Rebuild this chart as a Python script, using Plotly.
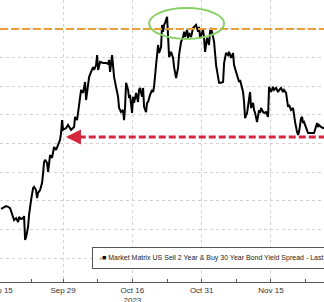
import numpy as np
import pandas as pd
import plotly.graph_objects as go

# ---- data: trading-session offset from 2023-09-15 and spread (bp) ----
sessions = [
    0.16, 0.48, 0.95, 1.27, 1.59, 2.06, 2.22, 2.54, 2.86, 3.02, 3.33, 3.65, 3.81, 3.97, 4.13,
    4.44, 4.60, 4.92, 5.24, 5.40, 5.71, 5.87, 6.03, 6.35, 6.67, 6.83, 6.98, 7.14, 7.46, 7.62,
    7.78, 7.94, 8.25, 8.41, 8.57, 8.89, 9.21, 9.37, 9.52, 9.68, 9.84,
    10.00, 10.48, 10.79, 11.27, 11.75, 11.90, 12.22, 12.54, 12.86, 13.17, 13.33, 13.49, 13.65,
    13.97, 14.13, 14.44, 14.76, 14.92, 15.24, 15.40, 15.56, 15.87, 16.35, 16.83, 17.14, 17.30,
    17.46, 17.78, 17.94, 18.10, 18.41, 18.73, 18.89, 19.21, 19.52, 19.68, 19.84, 20.00, 20.32,
    20.48, 20.63, 20.95, 21.11, 21.27, 21.59, 21.90, 22.06, 22.22, 22.54, 22.70, 22.86, 23.17,
    23.33, 23.49, 23.81, 24.13, 24.29, 24.44, 24.76, 24.92, 25.08, 25.24, 25.56,
    25.71, 25.87, 26.03, 26.19, 26.51, 26.67, 26.83, 27.14, 27.46, 27.62, 27.94, 28.25, 28.41,
    28.73, 29.05, 29.21, 29.37, 29.68, 29.84, 30.00, 30.32, 30.63, 30.79, 31.11, 31.43, 31.59,
    31.75, 31.90, 32.22, 32.38, 32.54, 32.86, 33.17, 33.33, 33.49, 33.81, 33.97, 34.29, 34.60,
    34.76, 35.08, 35.40, 35.56, 35.87, 36.19, 36.35, 36.67, 36.98, 37.14, 37.46,
    37.78, 37.94, 38.10, 38.25, 38.57, 38.73, 38.89, 39.21, 39.37, 39.52, 39.68, 39.84, 40.16,
    40.32, 40.48, 40.79, 40.95, 41.11, 41.27, 41.43, 41.75, 41.90, 42.22, 42.54, 42.70, 43.02,
    43.33, 43.49, 43.81, 44.13, 44.29, 44.60, 44.92, 45.08, 45.40, 45.56, 45.71, 45.87, 46.19,
    46.51, 46.67, 46.83, 47.14, 47.30, 47.46, 47.78, 47.94, 48.10, 48.25, 48.41, 48.73, 48.89,
    49.37, 49.84, 50.00, 50.32, 50.48, 50.63, 50.95, 51.27, 51.59,
]
spread_bp = [
    -62.8, -62.5, -61.8, -62.1, -62.5, -65.6, -66.7, -66.0, -67.4, -65.6, -66.3, -66.0, -65.3, -73.6, -72.6,
    -69.1, -64.9, -59.7, -55.5, -55.1, -56.2, -59.0, -57.2, -56.2, -53.7, -50.3, -46.4, -45.7, -46.8, -49.9,
    -46.8, -44.0, -45.0, -43.3, -41.2, -42.2, -40.5, -39.8, -38.7, -36.3, -31.8,
    -35.2, -34.6, -33.5, -35.2, -34.2, -30.7, -31.8, -27.2, -21.3, -22.3, -20.2, -18.5, -24.8,
    -20.2, -16.8, -15.0, -13.3, -14.3, -12.6, -9.1, -14.3, -11.5, -11.9, -11.9, -12.2, -10.8,
    -15.0, -9.1, -13.3, -16.8, -20.2, -23.7, -27.6, -29.0, -28.3, -31.8, -27.2, -18.8, -21.3,
    -24.1, -23.0, -29.3, -23.7, -25.8, -22.3, -25.5, -21.3, -20.6, -23.7, -20.6, -27.2, -29.0,
    -25.8, -25.5, -23.0, -21.3, -22.0, -20.2, -12.6, -7.3, -5.6, -8.4, -6.3,
    1.4, -1.0, 1.4, 2.1, 4.2, -2.1, -9.8, -8.0, -10.1, -13.3, -17.1, -13.6, -9.1,
    -4.5, -2.8, -1.0, -2.8, -0.3, -3.1, -1.4, -2.8, 0.3, 0.7, 1.4, -1.0, 0.7,
    -3.1, -2.1, -0.3, -3.1, -8.0, -3.1, -5.6, -1.0, 0.3, -2.8, -4.5, -12.6, -16.8,
    -18.8, -18.8, -18.5, -11.9, -8.4, -9.1, -8.0, -10.1, -8.4, -12.6, -14.7,
    -17.1, -18.5, -17.8, -19.5, -22.0, -25.5, -31.1, -29.3, -26.5, -25.8, -22.0, -27.6, -25.8,
    -28.3, -29.3, -32.5, -29.3, -28.3, -29.3, -27.6, -29.0, -29.3, -29.0, -30.7, -20.2, -22.0,
    -20.2, -21.3, -20.6, -22.0, -21.3, -20.6, -22.0, -21.3, -22.3, -25.8, -27.2, -26.5, -28.3,
    -27.6, -30.7, -32.5, -35.9, -37.0, -35.9, -31.1, -30.7, -32.8, -32.5, -33.5, -35.9, -36.3,
    -36.3, -36.3, -35.2, -32.8, -34.2, -33.5, -34.2, -34.6, -34.2,
]
tick_dates = ["2023-09-15", "2023-09-29", "2023-10-16", "2023-10-31", "2023-11-15"]
tick_labels = ["Sep 15", "Sep 29", "Oct 16<br>2023", "Oct 31", "Nov 15"]
minor_tick_dates = ["2023-09-22", "2023-10-06 12:00", "2023-10-23 12:00",
                    "2023-11-07 12:00", "2023-11-22 12:00"]
series_name = "Market Matrix US Sell 2 Year & Buy 30 Year Bond Yield Spread - Last Price"
peak_level = 0.0        # orange reference line (bp)
support_level = -37.7   # red reference line (bp)

BASE = pd.Timestamp("2023-09-15")


def to_time(s):
    d = int(np.floor(s))
    return BASE + pd.offsets.BDay(d) + pd.Timedelta(hours=float(s - d) * 24)


times = [to_time(s) for s in sessions]

fig = go.Figure()
fig.add_trace(go.Scatter(x=times, y=spread_bp, mode="lines",
                         line=dict(color="#000000", width=2),
                         name=series_name, showlegend=False))

x_start = BASE - pd.Timedelta(minutes=20)
x_end = to_time(51.42)

GRID = "#d2d2d2"
FONT = "Liberation Sans Narrow, Arial Narrow, Liberation Sans, sans-serif"
fig.update_layout(
    width=324, height=302,
    margin=dict(l=0, r=0, t=0, b=20, autoexpand=False),
    paper_bgcolor="white", plot_bgcolor="white",
    showlegend=False,
    xaxis=dict(
        type="date", range=[x_start, x_end],
        rangebreaks=[dict(bounds=["sat", "mon"])],
        tickmode="array", tickvals=tick_dates, ticktext=tick_labels,
        ticklabeloverflow="allow", automargin=False,
        ticks="inside", ticklen=3, tickcolor="#555555",
        showline=True, linecolor="#555555", linewidth=1,
        showgrid=True, gridcolor=GRID, griddash="dot", gridwidth=1,
        tickfont=dict(family=FONT, size=8, color="#333333"),
        minor=dict(tickmode="array", tickvals=minor_tick_dates, ticks="inside",
                   ticklen=3, tickcolor="#555555", showgrid=False),
        zeroline=False,
    ),
    yaxis=dict(
        range=[-88.3, 10.1], dtick=10, tick0=0, automargin=False,
        showticklabels=False, ticks="",
        showgrid=True, gridcolor=GRID, griddash="dot", gridwidth=1,
        zeroline=False, showline=False,
    ),
)

# orange dashed reference (peak) line
fig.add_shape(type="line", xref="paper", x0=0, x1=1, yref="y", y0=peak_level, y1=peak_level,
              line=dict(color="#e9a03a", width=2, dash="8px,3px"))
# red dashed support line with arrow
fig.add_shape(type="line", xref="x", x0=to_time(10.9), x1=to_time(53), yref="y",
              y0=support_level, y1=support_level,
              line=dict(color="#d6263c", width=3, dash="7px,3px"))
fig.add_annotation(x=to_time(10.45), y=support_level, xref="x", yref="y",
                   ax=9, ay=0, text="", showarrow=True, arrowhead=2, arrowsize=1,
                   arrowwidth=3, arrowcolor="#d6263c")
# green ellipse around the peak
fig.add_shape(type="circle", xref="x", yref="y",
              x0=to_time(23.65), x1=to_time(35.56), y0=-3.5, y1=7.3,
              line=dict(color="#88d066", width=2))

# legend box
fig.add_annotation(
    xref="paper", yref="paper", x=92 / 324, y=(282 - 258) / 282,
    xanchor="left", yanchor="middle", showarrow=False, align="left",
    text="<span style='color:#b8b8b8;font-size:5px'>■</span><span style='color:#000'>■</span> " + series_name,
    font=dict(family=FONT, size=7, color="#222222"),
    bgcolor="white", bordercolor="#555555", borderwidth=1, borderpad=6,
)

fig.write_html("out.html")
